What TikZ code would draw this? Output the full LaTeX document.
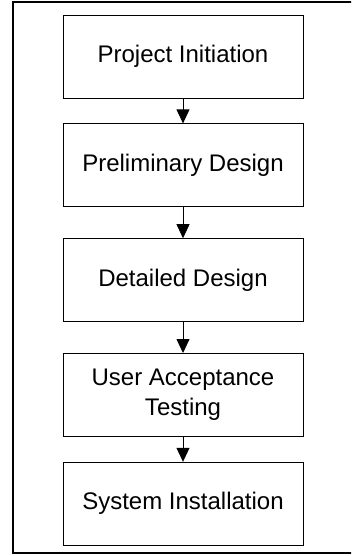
\documentclass[tikz,border=0pt]{standalone}
\usepackage{fontspec}
\setmainfont{Liberation Sans}
\usetikzlibrary{positioning, arrows.meta}

\begin{document}
\begin{tikzpicture}[x=1pt, y=1pt, node distance=25pt,
    phase/.style={draw, line width=0.8pt, minimum width=240pt, minimum height=83pt,
      align=center, inner sep=0pt, font=\fontsize{24}{30}\selectfont},
    flow/.style={-{Triangle[width=13pt,length=14pt]}, line width=0.8pt}]
  \useasboundingbox (0,0) rectangle (351,-556);
  \clip (0,0) rectangle (351,-556);

  % Outer frame, its right side runs off the page
  \draw[line width=2pt] (13,-2.5) rectangle (370,-553);

  % Nodes for the project phases
  \node[phase] (init) at (183,-56.5) {Project Initiation};
  \node[phase] (prelim) [below=25pt of init] {Preliminary Design};
  \node[phase] (detail) [below=31pt of prelim] {Detailed Design};
  \node[phase] (accept) [below=31pt of detail] {User Acceptance\\Testing};
  \node[phase] (install) [below=25pt of accept] {System Installation};

  % Edges between the phases
  \path[flow]
    (init) edge (prelim)
    (prelim) edge (detail)
    (detail) edge (accept)
    (accept) edge (install);

\end{tikzpicture}
\end{document}
